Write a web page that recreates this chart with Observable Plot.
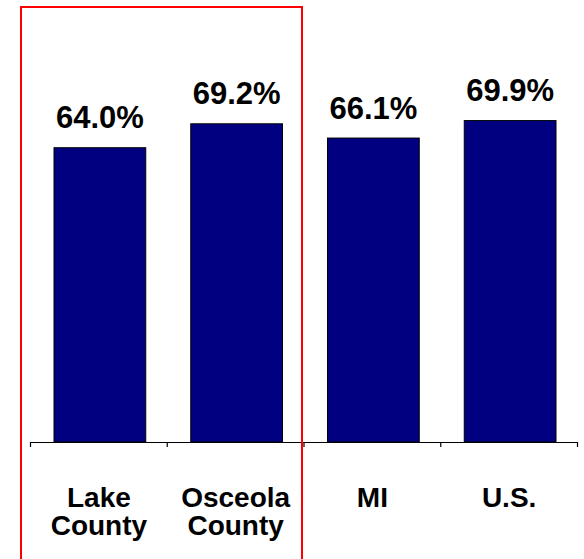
<!DOCTYPE html>
<html>
<head>
<meta charset="utf-8">
<script src="https://cdn.jsdelivr.net/npm/d3@7"></script>
<script src="https://cdn.jsdelivr.net/npm/@observablehq/plot@0.6"></script>
<style>
  html, body { margin: 0; padding: 0; background: #fff; }
  #chart { width: 584px; height: 559px; }
</style>
</head>
<body>
<div id="chart"></div>
<script>
const categories = ["Lake\nCounty", "Osceola\nCounty", "MI", "U.S."];
const values = [64.0, 69.2, 66.1, 69.9];
const valueLabels = ["64.0%", "69.2%", "66.1%", "69.9%"];
const highlighted = ["Lake\nCounty", "Osceola\nCounty"];

const rows = categories.map((c, i) => ({i, category: c, value: values[i], label: valueLabels[i]}));
const hlIdx = highlighted.map(h => categories.indexOf(h));
const hlRange = [{x1: d3.min(hlIdx), x2: d3.max(hlIdx) + 1}];

const font = "'Liberation Sans', Arial, Helvetica, sans-serif";

const chart = Plot.plot({
  width: 584,
  height: 559,
  marginTop: 7,
  marginBottom: 117,
  marginLeft: 30,
  marginRight: 7,
  style: {background: "#fff", fontFamily: font},
  x: {domain: [0, categories.length], axis: null},
  y: {domain: [0, 94.6], axis: null},
  marks: [
    Plot.rect(rows, {
      x1: "i",
      x2: d => d.i + 1,
      y1: 0,
      y2: "value",
      insetLeft: 24,
      insetRight: 21,
      fill: "#000080",
      stroke: "#000",
      strokeWidth: 1
    }),
    Plot.ruleY([0], {stroke: "#000", strokeWidth: 1.2}),
    Plot.axisX({
      ticks: d3.range(categories.length + 1),
      tickSize: 5,
      tickFormat: () => "",
      stroke: "#000",
      strokeWidth: 1.2
    }),
    Plot.text(rows, {
      x: d => d.i + 0.5,
      y: "value",
      text: "label",
      dx: 1,
      dy: -20,
      lineAnchor: "bottom",
      fontSize: 31,
      fontWeight: "bold",
      fill: "#000",
      fontFamily: font
    }),
    Plot.text(rows, {
      x: d => d.i + 0.5,
      text: "category",
      frameAnchor: "bottom",
      lineAnchor: "top",
      dy: 45,
      lineHeight: 1.0,
      fontSize: 28,
      fontWeight: "bold",
      fill: "#000",
      fontFamily: font
    }),
    Plot.rect(hlRange, {
      x1: "x1",
      x2: "x2",
      insetLeft: -9,
      insetRight: 1.5,
      insetBottom: -130,
      fill: "none",
      stroke: "#ff0000",
      strokeWidth: 2
    })
  ]
});

document.getElementById("chart").appendChild(chart);
</script>
</body>
</html>
